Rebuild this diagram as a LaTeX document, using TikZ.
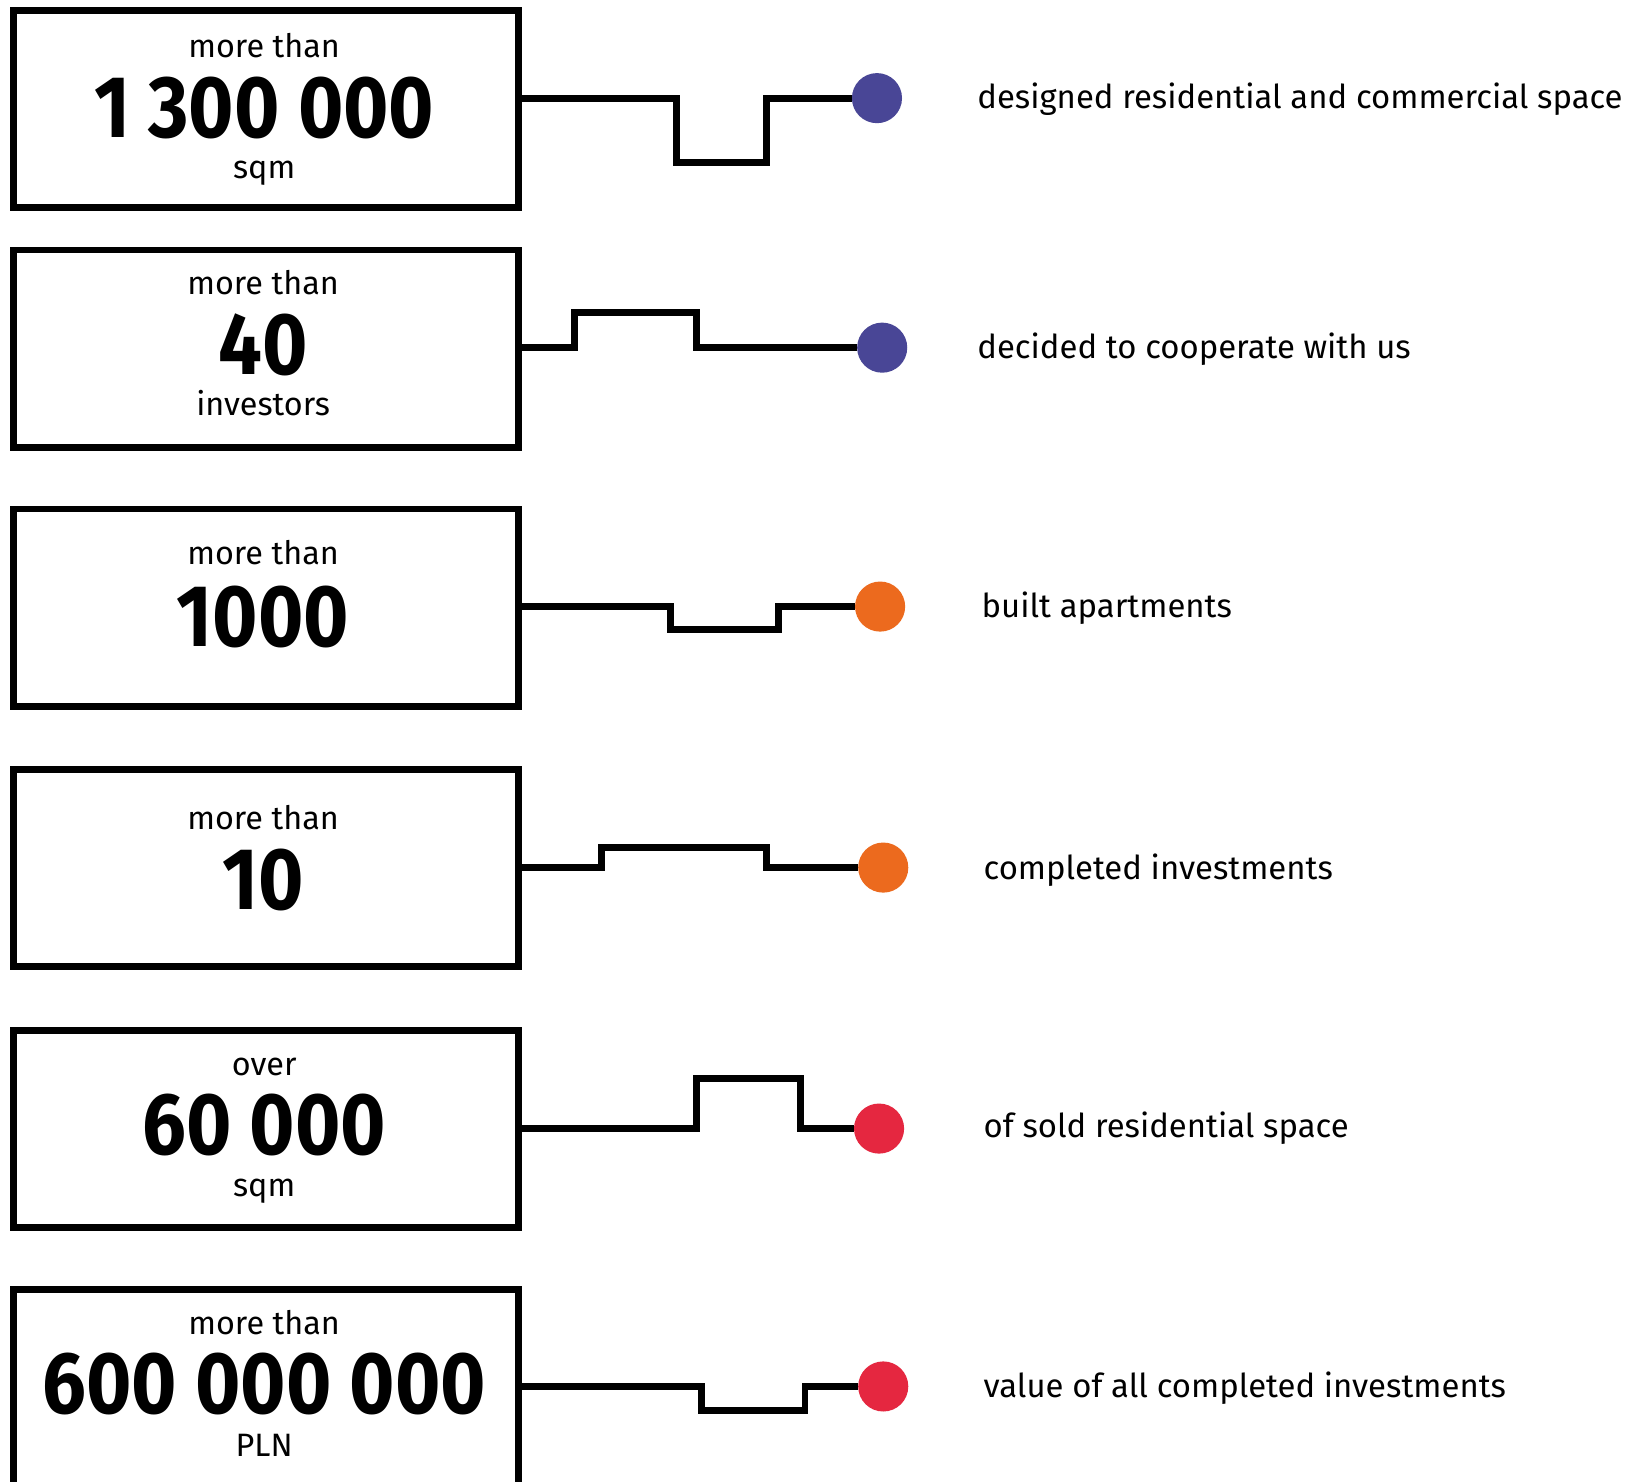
\documentclass[tikz,border=0pt]{standalone}
\usepackage{fontspec}
\setmainfont{Fira Sans}
\newfontfamily\numfont{Fira Sans}[FakeStretch=0.885]
\usetikzlibrary{calc}
\usetikzlibrary{positioning}

\definecolor{dotpurple}{HTML}{494696}
\definecolor{dotorange}{HTML}{EC6A1E}
\definecolor{dotred}{HTML}{E52740}

\tikzset{
  statbox/.style={draw=black, line width=6.5pt, minimum width=484pt,
    minimum height=189pt, inner sep=0pt},
  smalltxt/.style={anchor=base, inner sep=0pt, text height=22pt,
    text depth=6pt, font=\fontsize{31}{36}\selectfont},
  bignum/.style={anchor=base, inner sep=0pt, text height=60pt,
    text depth=0pt, font=\fontsize{84}{90}\selectfont\numfont\bfseries},
  wire/.style={line width=6.5pt, draw=black},
  bullet/.style={circle, minimum size=48pt, inner sep=0pt, draw=none},
  lbl/.style={anchor=base west, inner sep=0pt,
    font=\fontsize{31.5}{36}\selectfont},
}

\begin{document}
\begin{tikzpicture}[%
  x=1pt, y=-1pt,
]

  \useasboundingbox[fill=white] (0,0) rectangle (1568,1419);

  % boxes
  \node[statbox] (box1) at (255,104.5) {};
  \node[statbox] (box2) at (255,334) {};
  \node[statbox] (box3) at (255,582) {};
  \node[statbox] (box4) at (255,831.5) {};
  \node[statbox] (box5) at (255,1081.5) {};
  \node[statbox] (box6) at (255,1329.5) {};

  % texts in the boxes
  \node[smalltxt] (pre1) at (253,55) {more than};
  \node[bignum] (num1) at (253,132) {1 300 000};
  \node[smalltxt] (post1) at (253,171) {sqm};

  \node[smalltxt] (pre2) at (252,282) {more than};
  \node[bignum] (num2) at (252,359) {40};
  \node[smalltxt] (post2) at (252,398) {investors};

  \node[smalltxt] (pre3) at (252,541) {more than};
  \node[bignum] (num3) at (252,619) {1000};

  \node[smalltxt] (pre4) at (252,795) {more than};
  \node[bignum] (num4) at (252,871) {10};

  \node[smalltxt] (pre5) at (253,1030) {over};
  \node[bignum] (num5) at (253,1106) {60 000};
  \node[smalltxt] (post5) at (253,1146) {sqm};

  \node[smalltxt] (pre6) at (253,1278) {more than};
  \node[bignum] (num6) at (253,1354) {600 000 000};
  \node[smalltxt] (post6) at (253,1395) {PLN};

  % bullets
  \node[bullet, fill=dotpurple] (dot1) at (840,94) {};
  \node[bullet, fill=dotpurple] (dot2) at (845,333) {};
  \node[bullet, fill=dotorange] (dot3) at (843,581) {};
  \node[bullet, fill=dotorange] (dot4) at (846,831) {};
  \node[bullet, fill=dotred] (dot5) at (842,1081) {};
  \node[bullet, fill=dotred] (dot6) at (846,1328) {};

  % stepped wires
  \draw[wire] (box1.east |- dot1) -| (648,156) -| (734,94) -- (dot1.west);
  \draw[wire] (box2.east |- dot2) -| (550,299) -| (667,333) -- (dot2.west);
  \draw[wire] (box3.east |- dot3) -| (642,603) -| (746,581) -- (dot3.west);
  \draw[wire] (box4.east |- dot4) -| (576,812) -| (734,831) -- (dot4.west);
  \draw[wire] (box5.east |- dot5) -| (667,1033) -| (767,1081) -- (dot5.west);
  \draw[wire] (box6.east |- dot6) -| (672,1351) -| (771,1328) -- (dot6.west);

  % labels
  \node[lbl] (lab1) at (936,104) {designed residential and commercial space};
  \node[lbl] (lab2) at (936,343) {decided to cooperate with us};
  \node[lbl] (lab3) at (940,591) {built apartments};
  \node[lbl] (lab4) at (942,842) {completed investments};
  \node[lbl] (lab5) at (942,1090) {of sold residential space};
  \node[lbl] (lab6) at (942,1339) {value of all completed investments};

\end{tikzpicture}
\end{document}
